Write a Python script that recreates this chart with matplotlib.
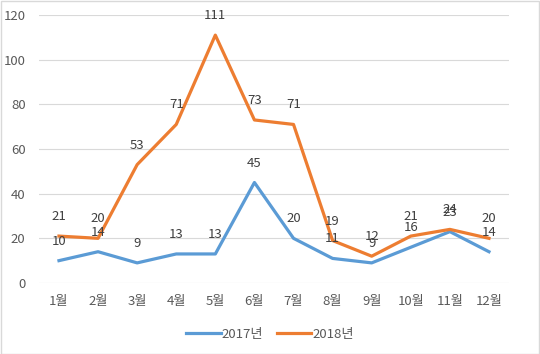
import numpy as np
import matplotlib
matplotlib.use('Agg')
import matplotlib.pyplot as plt

plt.rcParams['font.family'] = ['Noto Sans CJK KR', 'DejaVu Sans']

months = ['1월', '2월', '3월', '4월', '5월', '6월', '7월', '8월', '9월', '10월', '11월', '12월']
y2017 = [10, 14, 9, 13, 13, 45, 20, 11, 9, 16, 23, 14]
y2018 = [21, 20, 53, 71, 111, 73, 71, 19, 12, 21, 24, 20]

fig = plt.figure(figsize=(5.4, 3.54), dpi=100)
ax = fig.add_axes([0.073, 0.2006, 0.8687, 0.757])

x = np.arange(len(months))
ax.plot(x, y2017, color='#5B9BD5', lw=2.3, label='2017년', solid_joinstyle='round')
ax.plot(x, y2018, color='#ED7D31', lw=2.3, label='2018년', solid_joinstyle='round')

# 데이터 레이블 (점 위쪽)
for xi, v in zip(x, y2017):
    ax.annotate(str(v), (xi, v), xytext=(0, 14), textcoords='offset points',
                ha='center', va='center', fontsize=9.5, color='#404040')
for xi, v in zip(x, y2018):
    ax.annotate(str(v), (xi, v), xytext=(0, 14), textcoords='offset points',
                ha='center', va='center', fontsize=9.5, color='#404040')

ax.set_xlim(-0.5, 11.5)
ax.set_ylim(0, 120)
ax.set_yticks(range(0, 121, 20))
ax.set_xticks(x)
ax.set_xticklabels(months)
ax.tick_params(axis='both', length=0, labelsize=9.5, colors='#595959')
ax.tick_params(axis='x', pad=9)
ax.tick_params(axis='y', pad=10)
ax.grid(axis='y', color='#D9D9D9', lw=0.8)
ax.set_axisbelow(True)
for s in ax.spines.values():
    s.set_visible(False)

fig.legend(loc='center', bbox_to_anchor=(0.5, 0.055), ncol=2, frameon=False,
           fontsize=9.5, handlelength=2.6, columnspacing=1.0, handletextpad=0.1,
           labelcolor='#595959')

fig.patches.append(plt.Rectangle((0.001, 0.001), 0.997, 0.997, transform=fig.transFigure,
                                 fill=False, edgecolor='#D9D9D9', lw=1))

fig.savefig('out.png', dpi=100)
